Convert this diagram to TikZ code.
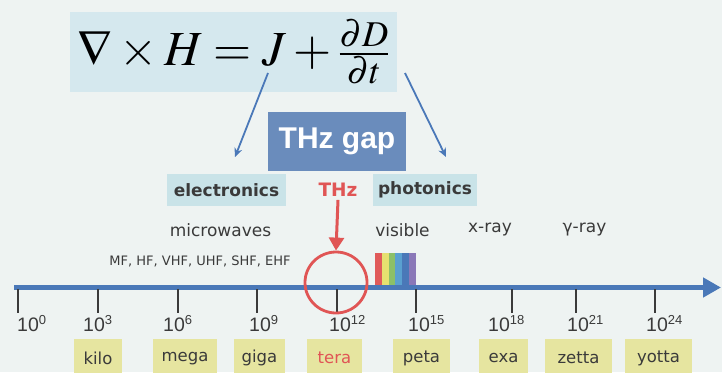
\documentclass[tikz,border=0pt]{standalone}
\usepackage{mathptmx}
\usepackage{fontspec}
\setmainfont{Liberation Sans}
\newfontfamily\comic{DejaVu Sans}
\usetikzlibrary{arrows.meta,shapes.geometric}
\definecolor{bgc}{HTML}{EEF3F2}
\definecolor{eqc}{HTML}{D5E8EE}
\definecolor{gapc}{HTML}{6A8CBC}
\definecolor{cyanc}{HTML}{C9E3E8}
\definecolor{yelc}{HTML}{E6E5A0}
\definecolor{axc}{HTML}{4A78B8}
\definecolor{redc}{HTML}{E05555}
\definecolor{txc}{HTML}{3A3A3A}
\newcommand{\pw}[1]{{\fontsize{19.5}{19.5}\selectfont 10\raisebox{7pt}{\fontsize{13}{13}\selectfont #1}}}
\tikzset{
  boxnode/.style={inner sep=0pt, minimum height=32pt},
  prefixbox/.style={fill=yelc, inner sep=0pt, minimum height=38pt, anchor=north, text=txc, font=\comic\fontsize{16.5}{16.5}\selectfont},
  ticklab/.style={anchor=north west, inner sep=0pt, text=txc},
  band/.style={font=\comic\fontsize{17}{17}\selectfont, text=txc, inner sep=0pt},
  boldlab/.style={font=\comic\bfseries\fontsize{17}{17}\selectfont},
  bluearrow/.style={draw=axc, line width=1.8pt, -{Stealth[length=9pt,width=8pt]}},
  tickline/.style={draw=txc, line width=1.4pt}
}
\begin{document}
\begin{tikzpicture}[x=1pt,y=-1pt]
\useasboundingbox (0,0) rectangle (722,372);
\fill[bgc] (0,0) rectangle (722,372);
% equation
\node[fill=eqc, minimum width=327pt, minimum height=80pt, inner sep=0pt] (eq) at (233.5,52) {\fontsize{49}{49}\selectfont $\nabla\times H = J + \frac{\partial D}{\partial t}$};
% THz gap
\node[fill=gapc, minimum width=138pt, minimum height=59pt, inner sep=0pt, text=white, font=\bfseries\fontsize{30}{30}\selectfont] (gap) at (337,141.5) {THz gap};
% electronics / photonics
\node[fill=cyanc, boxnode, minimum width=119pt, boldlab, text=txc] (elec) at (226.5,190) {electronics};
\node[fill=cyanc, boxnode, minimum width=104pt, boldlab, text=txc] (phot) at (425,190) {photonics};
\node[font=\comic\bfseries\fontsize{18.5}{18.5}\selectfont, text=redc, inner sep=0pt] (thz) at (338,190) {THz};
% arrows from equation
\coordinate (l1) at (268,73);
\coordinate (l2) at (235,157);
\coordinate (r1) at (405,73);
\coordinate (r2) at (446,157);
\draw[bluearrow] (l1) -- (l2);
\draw[bluearrow] (r1) -- (r2);
% band labels
\node[band] (mw) at (220.5,230) {microwaves};
\node[band] (vis) at (402.5,230) {visible};
\node[band] (xr) at (490,230) {x-ray};
\node[band] (gr) at (584.5,230) {γ-ray};
\node[font=\comic\fontsize{13}{13}\selectfont, text=txc, inner sep=0pt] (mf) at (200,261) {MF, HF, VHF, UHF, SHF, EHF};
% rainbow
\foreach \c [count=\i from 0] in {E05A5A,E6E070,8CC068,5AA0D0,4A78B8,8A78B8}{
  \definecolor{stripe}{HTML}{\c}
  \fill[stripe] (375+\i*6.83,253) rectangle (375+\i*6.83+6.83,286);
}
% axis
\coordinate (ax0) at (14,287.5);
\coordinate (ax1) at (721,287.5);
\draw[axc, line width=4.5pt, -{Triangle[length=18pt,width=19pt]}] (ax0) -- (ax1);
% ticks and labels
\foreach \x/\lx/\e in {18/17/0, 98/83/3, 178/163/6, 257/249/9, 337/329/12, 416/408/15, 512/488/18, 576/567/21, 655/646/24}{
  \coordinate (t\e) at (\x,289);
  \draw[tickline] (t\e) -- ++(0,24);
  \node[ticklab] (lab\e) at (\lx,315) {\pw{\e}};
}
% circle and red arrow
\node[draw=redc, line width=2.8pt, ellipse, minimum width=62pt, minimum height=61pt, inner sep=0pt] (circ) at (336,282.5) {};
\draw[redc, line width=3pt, -{Triangle[length=13pt,width=15pt]}] (thz.south) ++(0,3) -- (circ.north);
% prefix boxes
\node[prefixbox, minimum width=48pt] (kilo) at (98,339) {kilo};
\node[prefixbox, minimum width=64pt] (mega) at (185,339) {mega};
\node[prefixbox, minimum width=51pt] (giga) at (259.5,339) {giga};
\node[prefixbox, minimum width=55pt, text=redc] (tera) at (334.5,339) {tera};
\node[prefixbox, minimum width=57pt] (peta) at (421.5,339) {peta};
\node[prefixbox, minimum width=49pt] (exa) at (503.5,339) {exa};
\node[prefixbox, minimum width=67pt] (zetta) at (578.5,339) {zetta};
\node[prefixbox, minimum width=67pt] (yotta) at (658.5,339) {yotta};
\end{tikzpicture}
\end{document}
